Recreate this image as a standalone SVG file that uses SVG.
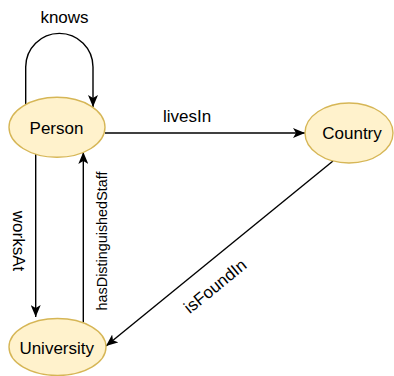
<svg xmlns="http://www.w3.org/2000/svg" width="394" height="376" viewBox="0 0 394 376">
<style>
.node{fill:#fff2cc;stroke:#d6b656;stroke-width:1.4}
.lbl{font-family:"Liberation Sans",Arial,sans-serif;font-size:17px;fill:#000;text-anchor:middle}
.edge{fill:none;stroke:#000;stroke-width:1.4}
</style>
<defs>
<marker id="arr" viewBox="0 0 12 10" refX="12" refY="5" markerWidth="12" markerHeight="10" markerUnits="userSpaceOnUse" orient="auto">
<path d="M0,0 L12,5 L0,10 L3,5 Z" fill="#000"/>
</marker>
</defs>
<g id="edges">
<path class="edge" d="M25.7,106 L25.7,67 A33.65,33.65 0 0 1 93,67 L93,107" marker-end="url(#arr)"/>
<text class="lbl" x="64.5" y="23">knows</text>
<path class="edge" d="M105,133 L305,133" marker-end="url(#arr)"/>
<text class="lbl" x="187" y="122">livesIn</text>
<path class="edge" d="M35.7,154 L35.7,317" marker-end="url(#arr)"/>
<text class="lbl" transform="translate(13,241) rotate(90)" x="0" y="0">worksAt</text>
<path class="edge" d="M83.3,322.5 L83.3,152" marker-end="url(#arr)"/>
<text class="lbl" style="font-size:14.4px" transform="translate(106.5,241) rotate(-90)" x="0" y="0">hasDistinguishedStaff</text>
<path class="edge" d="M333,161 L106,346" marker-end="url(#arr)"/>
<text class="lbl" transform="translate(215,286) rotate(-39.2)" x="0" y="6">isFoundIn</text>
</g>
<g id="person">
<ellipse class="node" cx="57" cy="127.3" rx="48" ry="30"/>
<text class="lbl" x="56.5" y="134">Person</text>
</g>
<g id="country">
<ellipse class="node" cx="349" cy="133" rx="44" ry="30"/>
<text class="lbl" x="352" y="139">Country</text>
</g>
<g id="university">
<ellipse class="node" cx="57.5" cy="347" rx="48.5" ry="28.5"/>
<text class="lbl" x="56.7" y="354">University</text>
</g>
</svg>
